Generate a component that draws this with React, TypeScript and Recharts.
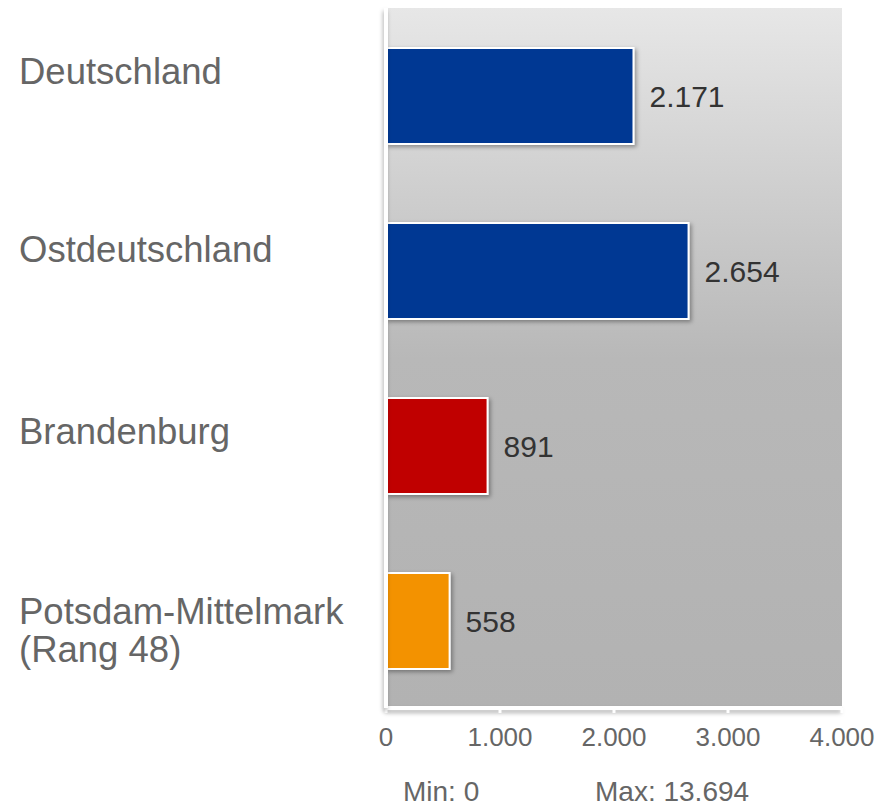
import { BarChart, Bar, XAxis, YAxis, Cell, LabelList, ReferenceArea } from 'recharts';

const REGIONS = ['Deutschland', 'Ostdeutschland', 'Brandenburg', 'Potsdam-Mittelmark (Rang 48)'];
const VALUES = [2171, 2654, 891, 558];
const BAR_COLORS = ['#003893', '#003893', '#c00000', '#f39200'];
const X_TICKS = [0, 1000, 2000, 3000, 4000];
const MIN_LABEL = 'Min: 0';
const MAX_LABEL = 'Max: 13.694';

// baselines of the category labels sit a bit off the bar centres in the original
const LABEL_DY = [-12, -9, -2, 3];

const FONT = '"Liberation Sans", Arial, sans-serif';

const fmt = (n: number) => String(n).replace(/\B(?=(\d{3})+(?!\d))/g, '.');

const data = REGIONS.map((name, i) => ({ name, value: VALUES[i] }));

function RegionTick(props: any) {
  const { y, payload, index } = props;
  const parts = String(payload.value).split(' (');
  const lines = parts.length > 1 ? [parts[0], '(' + parts[1]] : parts;
  const base = y + (LABEL_DY[index] ?? 0);
  return (
    <g>
      {lines.map((l, i) => (
        <text key={i} x={19} y={base + i * 38} textAnchor="start" fontSize={36.5} fill="#666" fontFamily={FONT}>
          {l}
        </text>
      ))}
    </g>
  );
}

export default function App() {
  return (
    <div style={{ position: 'absolute', left: 0, top: 0, width: 895, height: 806, background: '#fff' }}>
      <svg width={0} height={0} style={{ position: 'absolute' }}>
        <defs>
          <linearGradient id="plotBg" x1="0" y1="0" x2="0" y2="1">
            <stop offset="0%" stopColor="#e7e7e7" />
            <stop offset="50%" stopColor="#b8b8b8" />
            <stop offset="100%" stopColor="#b2b2b2" />
          </linearGradient>
          <filter id="shadow" x="-10%" y="-10%" width="130%" height="130%">
            <feDropShadow dx="2" dy="2" stdDeviation="2" floodColor="#000" floodOpacity="0.35" />
          </filter>
          <filter id="lineShadow" filterUnits="userSpaceOnUse" x="0" y="0" width="895" height="806">
            <feDropShadow dx="-1" dy="3" stdDeviation="2" floodColor="#000" floodOpacity="0.3" />
          </filter>
        </defs>
      </svg>
      <BarChart
        width={895}
        height={806}
        data={data}
        layout="vertical"
        barSize={96}
        margin={{ top: 8, right: 53, left: 8, bottom: 58 }}
      >
        <ReferenceArea x1={0} x2={4000} fill="url(#plotBg)" fillOpacity={1} stroke="none" ifOverflow="visible" />
        <XAxis
          type="number"
          domain={[0, 4000]}
          ticks={X_TICKS}
          tickFormatter={fmt}
          height={40}
          axisLine={{ stroke: '#fff', strokeWidth: 4, filter: 'url(#lineShadow)' }}
          tickLine={{ stroke: '#fff', strokeWidth: 3 }}
          tickSize={5}
          tickMargin={15}
          tick={{ fontSize: 26, fill: '#666', fontFamily: FONT }}
        />
        <YAxis
          type="category"
          dataKey="name"
          width={378}
          axisLine={{ stroke: '#fff', strokeWidth: 4, filter: 'url(#lineShadow)' }}
          tickLine={false}
          tick={<RegionTick />}
        />
        <Bar dataKey="value" isAnimationActive={false} stroke="#fff" strokeWidth={2} filter="url(#shadow)">
          {data.map((_, i) => (
            <Cell key={i} fill={BAR_COLORS[i]} />
          ))}
          <LabelList
            dataKey="value"
            position="right"
            offset={16}
            formatter={(v: any) => fmt(Number(v))}
            style={{ fontSize: 30, fill: '#333', fontFamily: FONT, filter: 'none' }}
          />
        </Bar>
      </BarChart>
      <svg width={895} height={806} style={{ position: 'absolute', left: 0, top: 0, pointerEvents: 'none' }}>
        <text x={403} y={801} fontSize={28} fill="#666" fontFamily={FONT}>{MIN_LABEL}</text>
        <text x={595} y={801} fontSize={28} fill="#666" fontFamily={FONT}>{MAX_LABEL}</text>
      </svg>
    </div>
  );
}
